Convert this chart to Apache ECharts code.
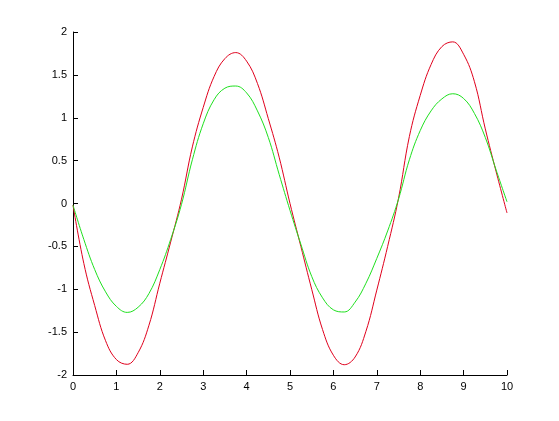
<!DOCTYPE html>
<html>
<head>
<meta charset="utf-8">
<script src="https://cdn.jsdelivr.net/npm/echarts@6/dist/echarts.min.js"></script>
<style>
html,body{margin:0;padding:0;background:#fff;}
#chart{width:559px;height:421px;}
</style>
</head>
<body>
<div id="chart"></div>
<script>
var xValues = [0,0.25,0.5,0.75,1,1.25,1.5,1.75,2,2.25,2.5,2.75,3,3.25,3.5,3.75,4,4.25,4.5,4.75,5,5.25,5.5,5.75,6,6.25,6.5,6.75,7,7.25,7.5,7.75,8,8.25,8.5,8.75,9,9.25,9.5,9.75,10];
var redValues = [-0.02,-0.70,-1.19,-1.60,-1.82,-1.875,-1.74,-1.42,-0.93,-0.45,0.05,0.66,1.12,1.48,1.69,1.76,1.66,1.40,0.99,0.54,0.0,-0.50,-1.00,-1.47,-1.77,-1.88,-1.79,-1.49,-1.01,-0.50,0.06,0.78,1.26,1.62,1.83,1.885,1.74,1.42,0.87,0.37,-0.11];
var greenValues = [-0.02,-0.42,-0.77,-1.03,-1.20,-1.27,-1.21,-1.05,-0.77,-0.42,-0.01,0.51,0.93,1.21,1.345,1.37,1.29,1.08,0.77,0.34,-0.08,-0.475,-0.85,-1.10,-1.24,-1.265,-1.15,-0.93,-0.64,-0.32,0.05,0.51,0.85,1.08,1.22,1.28,1.225,1.05,0.77,0.39,0.02];

function pairs(ys){ return xValues.map(function(x,i){ return [x, ys[i]]; }); }

var chart = echarts.init(document.getElementById('chart'), null, {renderer:'canvas'});
var labelStyle = {color:'#000', fontFamily:'Liberation Sans, Arial, sans-serif', fontSize:11, margin:6};
var axisCommon = {
  axisLine:{show:true, onZero:false, lineStyle:{color:'#000', width:1}},
  axisTick:{show:true, inside:true, length:5, lineStyle:{color:'#000', width:1}},
  axisLabel:labelStyle,
  splitLine:{show:false}
};
chart.setOption({
  animation:false,
  backgroundColor:'#fff',
  grid:{left:73, right:52, top:32, bottom:46, containLabel:false},
  xAxis: Object.assign({type:'value', min:0, max:10, interval:1}, axisCommon),
  yAxis: Object.assign({type:'value', min:-2, max:2, interval:0.5}, axisCommon),
  series:[
    {type:'line', data:pairs(redValues), smooth:0.4, showSymbol:false, lineStyle:{color:'#e0001c', width:1}, z:2},
    {type:'line', data:pairs(greenValues), smooth:0.4, showSymbol:false, lineStyle:{color:'#1ee01e', width:1}, z:3}
  ]
});
</script>
</body>
</html>
